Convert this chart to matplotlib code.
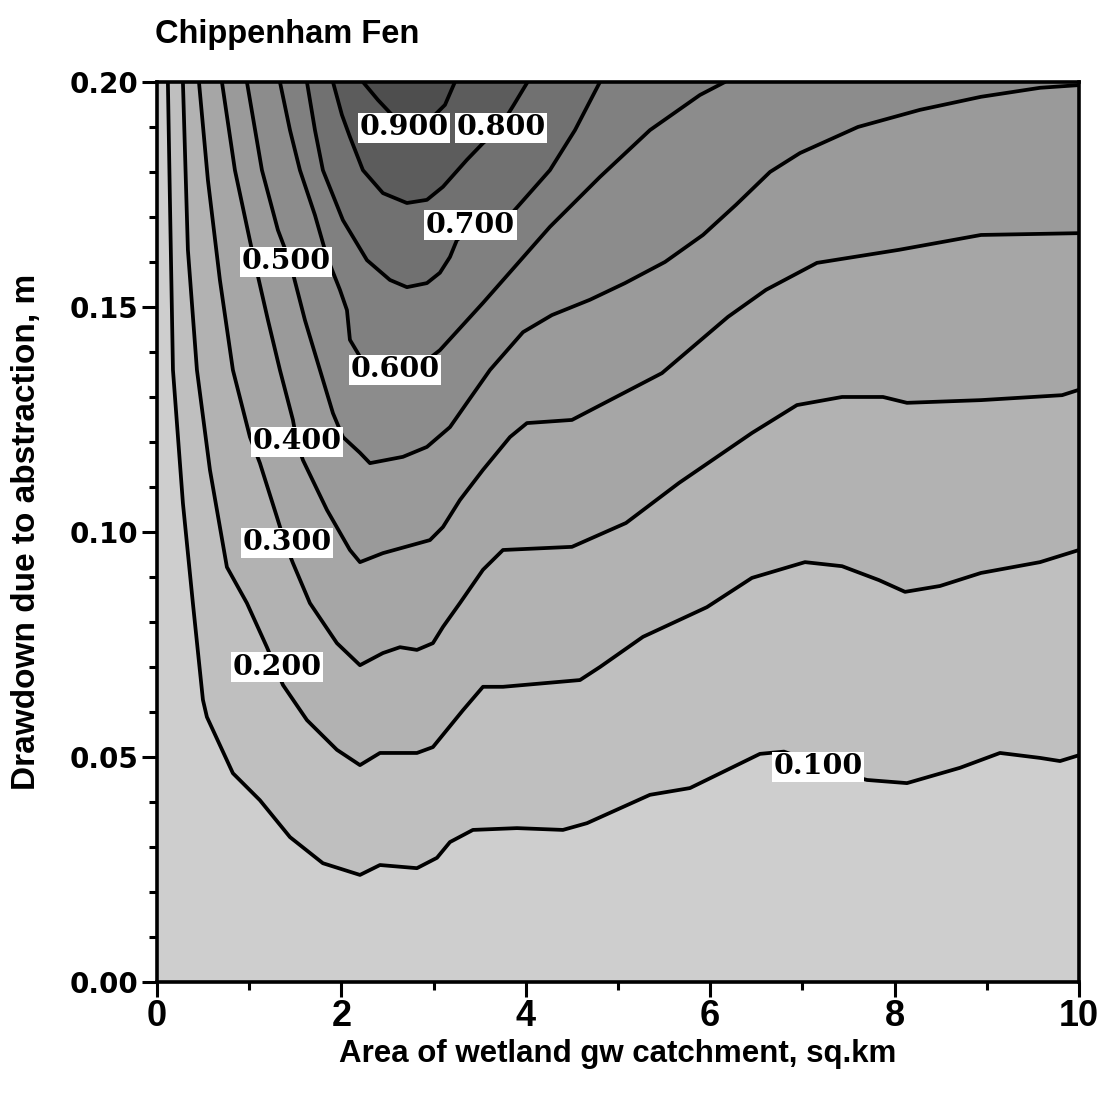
import numpy as np
import matplotlib
matplotlib.use("Agg")
from matplotlib import pyplot as plt
from matplotlib.ticker import MultipleLocator, FormatStrFormatter

# contour lines (x = area sq.km, y = drawdown m)
levels = [0.1, 0.2, 0.3, 0.4, 0.5, 0.6, 0.7, 0.8, 0.9]

x_010 = [0.119, 0.141, 0.174, 0.282, 0.390, 0.499, 0.542, 0.824, 1.117, 1.443, 1.800, 2.202, 2.419, 2.820,
         3.037, 3.178, 3.427, 3.905, 4.403, 4.664, 5.347, 5.781, 6.540, 6.800, 7.500, 7.701, 8.134, 8.709,
         9.143, 9.577, 9.794, 10.0]
y_010 = [0.2, 0.1738, 0.136, 0.1064, 0.0842, 0.0627, 0.0589, 0.0464, 0.0404, 0.0322, 0.0264, 0.0238, 0.0260,
         0.0253, 0.0276, 0.0311, 0.0338, 0.0342, 0.0338, 0.0353, 0.0416, 0.0431, 0.0507, 0.0512, 0.0460, 0.0449,
         0.0442, 0.0476, 0.0509, 0.0498, 0.0491, 0.0504]

x_020 = [0.282, 0.336, 0.434, 0.575, 0.759, 0.976, 1.193, 1.367, 1.627, 1.952, 2.202, 2.419, 2.820, 2.993,
         3.319, 3.536, 3.753, 4.588, 4.805, 5.271, 5.965, 6.453, 7.028, 7.430, 7.831, 8.113, 8.492, 8.937,
         9.577, 10.0]
y_020 = [0.2, 0.1627, 0.136, 0.1138, 0.0922, 0.0842, 0.0744, 0.066, 0.0582, 0.0516, 0.0482, 0.0509, 0.0509,
         0.0522, 0.0604, 0.0656, 0.0656, 0.0671, 0.07, 0.0767, 0.0833, 0.0898, 0.0933, 0.0924, 0.0893, 0.0867,
         0.088, 0.0909, 0.0933, 0.096]

x_030 = [0.456, 0.553, 0.683, 0.824, 1.009, 1.117, 1.302, 1.388, 1.475, 1.659, 1.952, 2.202, 2.451, 2.636,
         2.820, 2.993, 3.102, 3.286, 3.536, 3.753, 4.501, 5.087, 5.662, 6.453, 6.941, 7.430, 7.874, 8.134,
         8.937, 9.816, 10.0]
y_030 = [0.2, 0.1782, 0.156, 0.136, 0.1211, 0.1153, 0.1033, 0.0976, 0.0931, 0.0842, 0.0753, 0.0704, 0.0731,
         0.0744, 0.0738, 0.0753, 0.0789, 0.0842, 0.0916, 0.096, 0.0967, 0.102, 0.1109, 0.122, 0.1282, 0.13,
         0.13, 0.1287, 0.1293, 0.1304, 0.1316]

x_040 = [0.705, 0.846, 1.030, 1.204, 1.334, 1.475, 1.518, 1.583, 1.844, 2.093, 2.202, 2.451, 2.961, 3.102,
         3.286, 3.536, 3.829, 4.013, 4.501, 5.477, 6.193, 6.605, 7.158, 8.048, 8.937, 10.0]
y_040 = [0.2, 0.1804, 0.1627, 0.1471, 0.136, 0.1249, 0.12, 0.116, 0.1049, 0.096, 0.0933, 0.0953, 0.0982,
         0.1011, 0.1071, 0.1138, 0.1211, 0.1242, 0.1249, 0.1353, 0.1478, 0.1538, 0.1598, 0.1627, 0.166, 0.1664]

x_050 = [0.976, 1.139, 1.312, 1.443, 1.605, 1.768, 1.909, 2.017, 2.202, 2.310, 2.668, 2.928, 3.178, 3.362,
         3.612, 3.970, 4.284, 4.696, 5.076, 5.510, 5.922, 6.280, 6.649, 6.974, 7.603, 8.275, 8.937, 9.577, 10.0]
y_050 = [0.2, 0.1804, 0.1671, 0.16, 0.1471, 0.136, 0.1264, 0.1211, 0.1176, 0.1153, 0.1167, 0.1189, 0.1233,
         0.1287, 0.136, 0.1444, 0.1482, 0.1516, 0.1553, 0.16, 0.166, 0.1727, 0.18, 0.1842, 0.19, 0.1938,
         0.1967, 0.1987, 0.1993]

x_060 = [1.334, 1.443, 1.551, 1.714, 1.844, 1.985, 2.061, 2.093, 2.256, 2.581, 2.907, 3.069, 3.536, 4.262,
         4.805, 5.347, 5.889, 6.161]
y_060 = [0.2, 0.1893, 0.1804, 0.1704, 0.1611, 0.1538, 0.1493, 0.1427, 0.1371, 0.1356, 0.1378, 0.1404, 0.1509,
         0.1678, 0.1789, 0.1893, 0.1971, 0.2]

x_070 = [1.627, 1.714, 1.800, 2.017, 2.278, 2.527, 2.711, 2.928, 3.069, 3.178, 3.254, 3.449, 3.720, 3.861,
         4.262, 4.534, 4.805]
y_070 = [0.2, 0.1893, 0.1804, 0.1693, 0.1604, 0.156, 0.1544, 0.1553, 0.1576, 0.1611, 0.1649, 0.1676, 0.17,
         0.1711, 0.1804, 0.1893, 0.2]

x_080 = [1.909, 2.006, 2.093, 2.234, 2.451, 2.711, 2.928, 3.102, 3.362, 3.536, 3.700, 3.870, 4.020]
y_080 = [0.2, 0.1927, 0.1878, 0.1804, 0.1753, 0.1731, 0.1738, 0.1767, 0.1827, 0.1864, 0.1893, 0.1949, 0.2]

x_090 = [2.234, 2.397, 2.581, 2.720, 2.961, 3.124, 3.232]
y_090 = [0.2, 0.196, 0.192, 0.1904, 0.1916, 0.1949, 0.2]

# where each contour label sits
label_x = [7.17, 1.30, 1.41, 1.52, 1.40, 2.58, 3.40, 3.73, 2.68]
label_y = [0.0478, 0.070, 0.0976, 0.120, 0.160, 0.136, 0.1682, 0.1898, 0.1898]

shades = ['#cecece', '#bfbfbf', '#b2b2b2', '#a6a6a6', '#9a9a9a', '#8c8c8c', '#808080', '#717171',
          '#5c5c5c', '#4e4e4e']

lines_x = [x_010, x_020, x_030, x_040, x_050, x_060, x_070, x_080, x_090]
lines_y = [y_010, y_020, y_030, y_040, y_050, y_060, y_070, y_080, y_090]

fig = plt.figure(figsize=(11.05, 10.97), dpi=100)
ax = fig.add_axes([0.142, 0.1048, 0.8345, 0.8205])
ax.set_facecolor(shades[0])

for i, lev in enumerate(levels):
    xs = list(lines_x[i])
    ys = list(lines_y[i])
    if ys[-1] < 0.2:
        # ends on the right edge, close round the top right corner
        xs.append(10.0)
        ys.append(0.2)
    ax.fill(xs, ys, color=shades[i + 1], lw=0, zorder=1)

for i, lev in enumerate(levels):
    ax.plot(lines_x[i], lines_y[i], color='black', lw=2.7, zorder=2,
            solid_joinstyle='round', solid_capstyle='round')

for i, lev in enumerate(levels):
    ax.text(label_x[i], label_y[i], '%.3f' % lev, ha='center', va='center', zorder=3 + i * 0.01,
            fontsize=20.5, fontweight='bold', family='DejaVu Serif',
            bbox=dict(boxstyle='square,pad=0.06', fc='white', ec='none'))

ax.set_xlim(0, 10)
ax.set_ylim(0, 0.2)
ax.xaxis.set_major_locator(MultipleLocator(2))
ax.xaxis.set_minor_locator(MultipleLocator(1))
ax.yaxis.set_major_locator(MultipleLocator(0.05))
ax.yaxis.set_minor_locator(MultipleLocator(0.01))
ax.yaxis.set_major_formatter(FormatStrFormatter('%.2f'))

ax.tick_params(which='major', direction='out', length=10.5, width=2.2)
ax.tick_params(which='minor', direction='out', length=6, width=2.2)
ax.tick_params(axis='y', pad=3)
ax.tick_params(axis='x', pad=2)
for s in ax.spines.values():
    s.set_linewidth(2.6)
    s.set_zorder(5)

for lab in ax.get_yticklabels():
    lab.set_fontfamily('DejaVu Sans')
    lab.set_fontweight('bold')
    lab.set_fontsize(20)
for lab in ax.get_xticklabels():
    lab.set_fontfamily('Liberation Sans')
    lab.set_fontweight('bold')
    lab.set_fontsize(26)

ax.set_xlabel('Area of wetland gw catchment, sq.km', fontsize=22.5, fontweight='bold',
              family='Liberation Sans')
ax.xaxis.set_label_coords(0.5, -0.063)
ax.set_ylabel('Drawdown due to abstraction, m', fontsize=24, fontweight='bold',
              family='Liberation Sans')
ax.yaxis.set_label_coords(-0.125, 0.5)

fig.text(155 / 1105, 1 - 35 / 1097, 'Chippenham Fen', fontsize=23.5, fontweight='bold',
         family='Liberation Sans', ha='left', va='center')

fig.savefig('out.png', dpi=100)
